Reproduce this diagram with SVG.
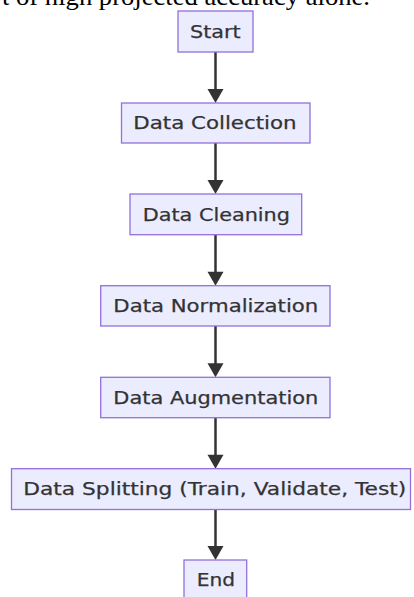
<svg xmlns="http://www.w3.org/2000/svg" width="414" height="597" viewBox="0 0 414 597">
<style>
.node rect{fill:#ECECFF;stroke:#9370DB;stroke-width:1.3}
.node text{font-family:"DejaVu Sans",Verdana,sans-serif;font-size:17.5px;fill:#333;stroke:#333;stroke-width:0.25;text-anchor:start}
.edge line{stroke:#333;stroke-width:2.5}
.edge polygon{fill:#333}
.top{font-family:"Liberation Serif","Times New Roman",serif;font-size:25px;fill:#000}
</style>
<rect width="414" height="597" fill="#fff"/>
<text class="top" x="2" y="4.5" textLength="368" lengthAdjust="spacingAndGlyphs">t of high projected accuracy alone.</text>
<g id="edges" class="edge">
<line x1="215.5" y1="52" x2="215.5" y2="92"/><polygon points="207.5,89 223.5,89 215.5,103"/>
<line x1="215.5" y1="143" x2="215.5" y2="183"/><polygon points="207.5,180 223.5,180 215.5,194"/>
<line x1="215.5" y1="234.7" x2="215.5" y2="275"/><polygon points="207.5,271.7 223.5,271.7 215.5,285.7"/>
<line x1="215.5" y1="326" x2="215.5" y2="366"/><polygon points="207.5,363.3 223.5,363.3 215.5,377.3"/>
<line x1="215.5" y1="417.7" x2="215.5" y2="458"/><polygon points="207.5,454.7 223.5,454.7 215.5,468.7"/>
<line x1="215.5" y1="509.5" x2="215.5" y2="549"/><polygon points="207.5,546 223.5,546 215.5,560"/>
</g>
<g id="start" class="node"><rect x="178" y="11" width="75" height="41"/><text x="190" y="37.7" textLength="50.7" lengthAdjust="spacingAndGlyphs">Start</text></g>
<g id="collection" class="node"><rect x="121.5" y="103" width="188.5" height="40"/><text x="133.3" y="129.3" textLength="163.3" lengthAdjust="spacingAndGlyphs">Data Collection</text></g>
<g id="cleaning" class="node"><rect x="130" y="194" width="171.7" height="40.7"/><text x="142.7" y="220.7" textLength="147.3" lengthAdjust="spacingAndGlyphs">Data Cleaning</text></g>
<g id="normalization" class="node"><rect x="100.7" y="285.7" width="229.3" height="40.3"/><text x="113.3" y="312.3" textLength="205" lengthAdjust="spacingAndGlyphs">Data Normalization</text></g>
<g id="augmentation" class="node"><rect x="100.7" y="377.3" width="229.3" height="40.4"/><text x="113.3" y="403.5" textLength="205" lengthAdjust="spacingAndGlyphs">Data Augmentation</text></g>
<g id="splitting" class="node"><rect x="11.5" y="468.7" width="399" height="40.8"/><text x="23.3" y="494.5" textLength="383" lengthAdjust="spacingAndGlyphs">Data Splitting (Train, Validate, Test)</text></g>
<g id="end" class="node"><rect x="184" y="560" width="62.7" height="41"/><text x="196.7" y="585.5" textLength="38.3" lengthAdjust="spacingAndGlyphs">End</text></g>
</svg>
